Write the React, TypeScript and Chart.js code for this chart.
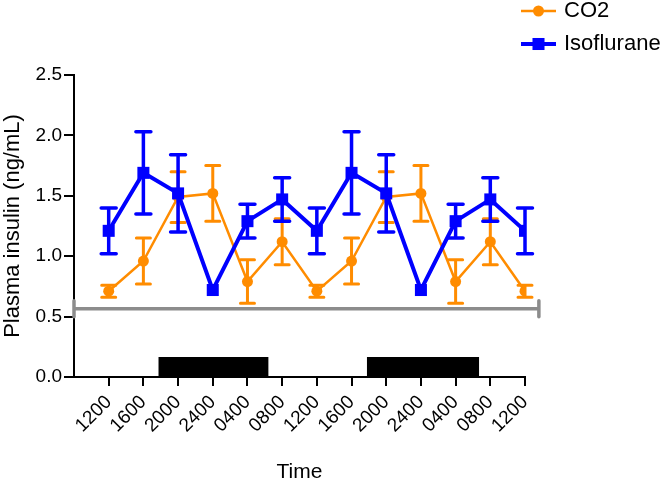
import React, { useEffect, useRef } from 'react';
import { Chart, registerables } from 'chart.js';

Chart.register(...registerables);

// ---- Data ----
const timeLabels = ['1200', '1600', '2000', '2400', '0400', '0800', '1200', '1600', '2000', '2400', '0400', '0800', '1200'];
const co2Mean = [0.71, 0.96, 1.49, 1.52, 0.79, 1.12, 0.71, 0.96, 1.49, 1.52, 0.79, 1.12, 0.71];
const co2Sem = [0.05, 0.19, 0.21, 0.23, 0.18, 0.19, 0.05, 0.19, 0.21, 0.23, 0.18, 0.19, 0.05];
const isoMean = [1.21, 1.69, 1.52, 0.72, 1.29, 1.47, 1.21, 1.69, 1.52, 0.72, 1.29, 1.47, 1.21];
const isoSem = [0.19, 0.34, 0.32, 0, 0.14, 0.18, 0.19, 0.34, 0.32, 0, 0.14, 0.18, 0.19];
const darkStart = [1.43, 7.44];
const darkEnd = [4.61, 10.68];
const darkLevel = 0.166;
const refLineY = 0.565;
const refLineX = [-1, 12.4];
const yTicks = [0, 0.5, 1.0, 1.5, 2.0, 2.5];
const seriesNames = ['CO2', 'Isoflurane'];

const ORANGE = '#ff8c00';
const BLUE = '#0000ff';
const GRAY = '#8c8c8c';
const FONT = "'Liberation Sans', Arial, sans-serif";

const errorBarPlugin = {
  id: 'errorBars',
  beforeDatasetDraw(chart: any, args: any) {
    const ds = chart.data.datasets[args.index];
    if (!ds.sem) return;
    const { ctx, scales } = chart;
    const x = scales.x;
    const y = scales.y;
    ctx.save();
    ctx.strokeStyle = ds.borderColor;
    ctx.lineWidth = ds.errWidth;
    ctx.lineCap = 'round';
    ds.data.forEach((p: any, i: number) => {
      const s = ds.sem[i];
      if (!s) return;
      const px = x.getPixelForValue(p.x);
      const yt = y.getPixelForValue(p.y + s);
      const yb = y.getPixelForValue(p.y - s);
      ctx.beginPath();
      ctx.moveTo(px, yt);
      ctx.lineTo(px, yb);
      ctx.moveTo(px - ds.capHalf, yt);
      ctx.lineTo(px + ds.capHalf, yt);
      ctx.moveTo(px - ds.capHalf, yb);
      ctx.lineTo(px + ds.capHalf, yb);
      ctx.stroke();
    });
    ctx.restore();
  },
  afterDatasetDraw(chart: any, args: any) {
    const ds = chart.data.datasets[args.index];
    if (!ds.endCaps) return;
    const { ctx, scales } = chart;
    ctx.save();
    ctx.strokeStyle = ds.borderColor;
    ctx.lineWidth = ds.borderWidth;
    ctx.lineCap = 'round';
    ds.data.forEach((p: any) => {
      const px = scales.x.getPixelForValue(p.x);
      const py = scales.y.getPixelForValue(p.y);
      ctx.beginPath();
      ctx.moveTo(px, py - 8);
      ctx.lineTo(px, py + 8);
      ctx.stroke();
    });
    ctx.restore();
  },
};

const legendPlugin = {
  id: 'customLegend',
  afterDraw(chart: any) {
    const { ctx } = chart;
    const items = chart.data.datasets.filter((d: any) => d.legendItem);
    ctx.save();
    items.forEach((d: any, i: number) => {
      const cy = 11 + i * 33;
      const x0 = 521;
      const x1 = 556;
      const mx = (x0 + x1) / 2;
      ctx.strokeStyle = d.borderColor;
      ctx.lineWidth = d.borderWidth;
      ctx.beginPath();
      ctx.moveTo(x0, cy);
      ctx.lineTo(x1, cy);
      ctx.stroke();
      ctx.fillStyle = d.borderColor;
      if (d.pointStyle === 'rect') {
        const h = d.pointRadius * Math.SQRT1_2;
        ctx.fillRect(mx - h, cy - h, 2 * h, 2 * h);
      } else {
        ctx.beginPath();
        ctx.arc(mx, cy, d.pointRadius, 0, Math.PI * 2);
        ctx.fill();
      }
      ctx.fillStyle = '#000';
      ctx.font = `22px ${FONT}`;
      ctx.textBaseline = 'middle';
      ctx.textAlign = 'left';
      ctx.fillText(d.label, 564, cy);
    });
    ctx.restore();
  },
};

export default function App() {
  const canvasRef = useRef<HTMLCanvasElement | null>(null);

  useEffect(() => {
    const canvas = canvasRef.current;
    if (!canvas) return;

    const darkSets = darkStart.map((s, k) => ({
      type: 'line',
      label: 'dark' + k,
      data: [
        { x: s, y: darkLevel },
        { x: darkEnd[k], y: darkLevel },
      ],
      borderWidth: 0,
      pointRadius: 0,
      backgroundColor: '#000',
      borderColor: '#000',
      fill: 'origin',
      order: 5,
    }));

    const chart = new Chart(canvas, {
      type: 'line',
      data: {
        datasets: [
          {
            label: seriesNames[0],
            data: co2Mean.map((v, i) => ({ x: i, y: v })),
            sem: co2Sem,
            borderColor: ORANGE,
            backgroundColor: ORANGE,
            borderWidth: 2.5,
            pointStyle: 'circle',
            pointRadius: 5.5,
            pointBorderWidth: 0,
            errWidth: 3,
            capHalf: 7,
            legendItem: true,
            order: 2,
          },
          {
            label: seriesNames[1],
            data: isoMean.map((v, i) => ({ x: i, y: v })),
            sem: isoSem,
            borderColor: BLUE,
            backgroundColor: BLUE,
            borderWidth: 4,
            pointStyle: 'rect',
            pointRadius: 8.5,
            pointBorderWidth: 0,
            errWidth: 3.5,
            capHalf: 7.5,
            legendItem: true,
            order: 1,
          },
          {
            label: 'ref',
            data: refLineX.map((x) => ({ x, y: refLineY })),
            borderColor: GRAY,
            borderWidth: 3.5,
            pointRadius: 0,
            clip: false,
            endCaps: true,
            order: 3,
          },
          ...darkSets,
        ] as any,
      },
      options: {
        responsive: false,
        animation: false,
        layout: { padding: { left: 0, top: 75, right: 145, bottom: 0 } },
        plugins: {
          legend: { display: false },
          tooltip: { enabled: false },
        },
        scales: {
          x: {
            type: 'linear',
            min: -1,
            max: 12,
            afterFit: (scale: any) => {
              scale.height = 108;
            },
            afterBuildTicks: (scale: any) => {
              scale.ticks = timeLabels.map((_, i) => ({ value: i }));
            },
            ticks: {
              autoSkip: false,
              minRotation: 45,
              maxRotation: 45,
              color: '#000',
              padding: 5,
              font: { family: FONT, size: 19 },
              callback: (v: any) => timeLabels[v] ?? '',
            },
            grid: {
              display: true,
              drawOnChartArea: false,
              drawTicks: true,
              tickLength: 9,
              color: '#000',
              lineWidth: 2,
            },
            border: { display: true, color: '#000', width: 2 },
            title: {
              display: true,
              text: 'Time',
              color: '#000',
              font: { family: FONT, size: 21 },
              padding: { top: 0, bottom: 0 },
            },
          },
          y: {
            type: 'linear',
            min: 0,
            max: 2.5,
            afterFit: (scale: any) => {
              scale.width = 74;
            },
            afterBuildTicks: (scale: any) => {
              scale.ticks = yTicks.map((v) => ({ value: v }));
            },
            ticks: {
              color: '#000',
              padding: 2,
              font: { family: FONT, size: 19 },
              callback: (v: any) => Number(v).toFixed(1),
            },
            grid: {
              display: true,
              drawOnChartArea: false,
              drawTicks: true,
              tickLength: 10,
              color: '#000',
              lineWidth: 2,
            },
            border: { display: true, color: '#000', width: 2 },
            title: {
              display: true,
              text: 'Plasma insulin (ng/mL)',
              color: '#000',
              font: { family: FONT, size: 22 },
              padding: { top: 0, bottom: 0 },
            },
          },
        },
      } as any,
      plugins: [errorBarPlugin, legendPlugin],
    });

    return () => chart.destroy();
  }, []);

  return (
    <div style={{ position: 'fixed', left: 0, top: 0, width: 670, height: 485, background: '#fff' }}>
      <canvas ref={canvasRef} width={670} height={485} style={{ width: 670, height: 485, display: 'block' }} />
    </div>
  );
}
